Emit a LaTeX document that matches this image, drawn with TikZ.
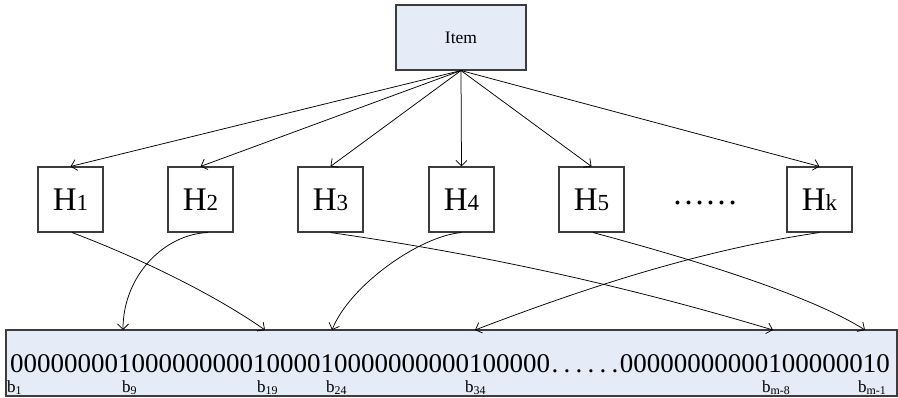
\documentclass[tikz,border=0pt]{standalone}
\usepackage{fontspec}
\setmainfont{Liberation Serif}
\usetikzlibrary{arrows.meta,calc}
\definecolor{boxfill}{RGB}{230,236,247}
\definecolor{boxline}{RGB}{60,60,60}
\newcommand{\Hlab}[1]{\fontsize{33}{33}\selectfont H\fontsize{23}{23}\selectfont #1}
\newcommand{\blab}[1]{b\textsubscript{#1}}
\newcommand{\sdot}{\makebox[12pt][c]{.}}
\begin{document}
\begin{tikzpicture}[x=1pt,y=-1pt,
  itembox/.style={draw=boxline, line width=1.1pt, fill=boxfill, minimum width=130pt, minimum height=65pt, inner sep=0pt, font=\fontsize{17.5}{17.5}\selectfont},
  hbox/.style={draw=boxline, line width=1.1pt, fill=white, minimum width=65pt, minimum height=65pt, inner sep=0pt},
  bitbox/.style={draw=boxline, line width=1.1pt, fill=boxfill, minimum width=891pt, minimum height=66pt, inner sep=0pt},
  bitstext/.style={inner sep=0pt, font=\fontsize{27}{27}\selectfont},
  blabel/.style={anchor=base west, inner sep=0pt, font=\fontsize{17}{17}\selectfont},
  link/.style={draw=black, line width=0.75pt, -{Straight Barb[length=5.5pt,width=11pt]}}]
\useasboundingbox (0,0) rectangle (898,398);
% boxes
\node[itembox] (item) at (461,37.5) {Item};
\node[hbox] (h1) at (70.5,199.5) {\Hlab{1}};
\node[hbox] (h2) at (200.5,199.5) {\Hlab{2}};
\node[hbox] (h3) at (330.5,199.5) {\Hlab{3}};
\node[hbox] (h4) at (461.5,199.5) {\Hlab{4}};
\node[hbox] (h5) at (591.5,199.5) {\Hlab{5}};
\node[hbox] (hk) at (819.5,199.5) {\Hlab{k}};
\node[anchor=base, inner sep=0pt, font=\fontsize{33}{33}\selectfont] (hdots) at (705,205) {……};
\node[bitbox] (bits) at (451.5,363) {};
\node[bitstext, anchor=base west] (bitsL) at (10,373) {0000000010000000001000010000000000100000};
\node[bitstext, anchor=base] (bitsD) at (585,373) {\sdot\sdot\sdot\sdot\sdot\sdot};
\node[bitstext, anchor=base east] (bitsR) at (890,373) {00000000000100000010};
% bit labels
\node[blabel] (b1) at (7,392) {\blab{1}};
\node[blabel] (b9) at (122,392) {\blab{9}};
\node[blabel] (b19) at (257,392) {\blab{19}};
\node[blabel] (b24) at (326,392) {\blab{24}};
\node[blabel] (b34) at (465,392) {\blab{34}};
\node[blabel] (bm8) at (762,392) {\blab{m-8}};
\node[blabel] (bm1) at (858,392) {\blab{m-1}};
% arrow targets on the bit box
\coordinate (t9) at (123,330);
\coordinate (t19) at (265,330);
\coordinate (t24) at (332,330);
\coordinate (t34) at (475,330);
\coordinate (tm8) at (773,330);
\coordinate (tm1) at (865,330);
% item to hash functions
\draw[link] (item.south) -- (h1.north);
\draw[link] (item.south) -- (h2.north);
\draw[link] (item.south) -- (h3.north);
\draw[link] (item.south) -- (h4.north);
\draw[link] (item.south) -- (h5.north);
\draw[link] (item.south) -- (hk.north);
% hash functions to bits
\draw[link] ($(h1.south)+(1.5,0)$) .. controls (142,259) and (215,295) .. (t19);
\draw[link] ($(h2.south)+(7.5,0)$) .. controls (165,234) and (123,275) .. (t9);
\draw[link] (h3.south) .. controls (480,254) and (623,285) .. (tm8);
\draw[link] (h4.south) .. controls (420,236) and (350,285) .. (t24);
\draw[link] ($(h5.south)+(1.5,0)$) .. controls (673,254) and (805,292) .. (tm1);
\draw[link] (hk.south) .. controls (700,250) and (585,288) .. (t34);
\end{tikzpicture}
\end{document}
